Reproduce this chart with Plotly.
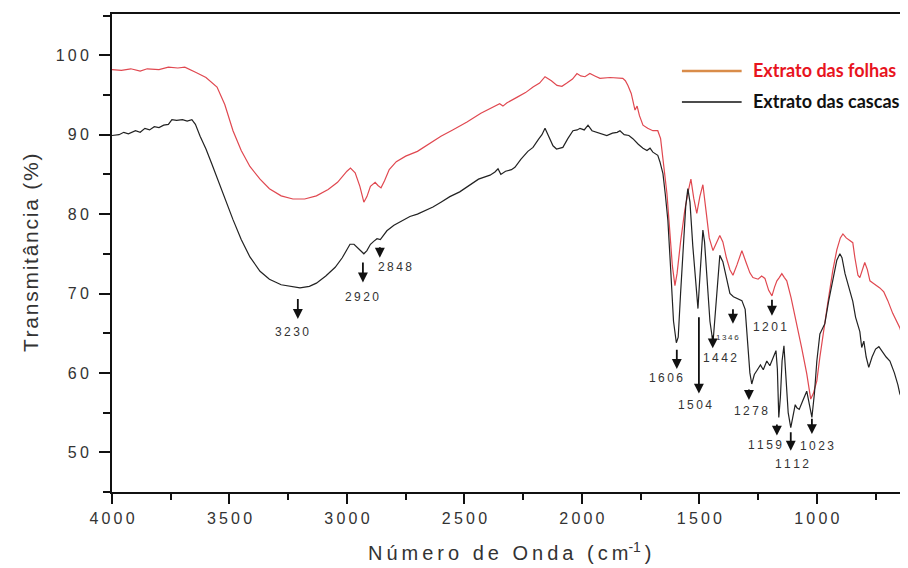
import plotly.graph_objects as go

# ---------------- data ----------------
folhas_x = [4000,3960,3920,3880,3850,3800,3760,3720,3690,3665,3640,3600,3553,3520,3485,3450,3413,3370,3330,3280,
            3230,3180,3130,3080,3040,3000,2985,2965,2945,2928,2915,2900,2880,2868,2855,2840,2820,2790,2750,2700,
            2650,2600,2550,2489,2430,2380,2350,2336,2320,2277,2240,2208,2180,2157,2130,2106,2085,2064,2040,2021,
            2005,1987,1966,1945,1923,1880,1850,1826,1815,1804,1790,1774,1765,1755,1740,1720,1698,1677,1665,1655,
            1645,1638,1625,1615,1604,1595,1580,1562,1548,1536,1524,1511,1498,1485,1472,1458,1442,1428,1413,1400,
            1385,1370,1357,1340,1319,1300,1285,1272,1250,1235,1221,1205,1191,1180,1170,1160,1149,1138,1128,1110,
            1095,1085,1065,1043,1030,1026,1015,1000,987,974,955,932,915,900,889,875,860,847,838,825,
            817,805,796,785,774,760,745,732,715,698,677,660,647,630,620,615]
folhas_y = [98.2,98.1,98.3,98.0,98.3,98.2,98.5,98.4,98.5,98.2,97.8,97.2,96.0,93.8,90.5,88.0,86.0,84.4,83.2,82.3,
            81.9,81.9,82.3,83.1,84.0,85.4,85.8,85.2,83.5,81.5,82.2,83.5,84.0,83.6,83.3,84.2,85.6,86.6,87.3,87.9,
            88.9,89.8,90.6,91.6,92.7,93.5,93.9,93.6,94.0,94.7,95.3,96.0,96.5,97.3,96.8,96.2,96.1,96.5,97.0,97.7,
            97.4,97.3,97.7,97.4,97.1,97.2,97.1,97.1,96.8,96.2,95.2,93.1,93.6,92.4,91.2,90.8,90.5,90.5,89.5,87.0,
            84.0,82.6,77.5,73.5,71.0,72.5,76.5,80.5,82.8,84.4,82.0,80.1,82.2,83.7,80.5,77.0,75.4,76.4,77.3,76.5,
            74.5,73.0,72.3,73.6,75.4,73.8,72.6,72.0,71.8,72.2,71.9,70.4,69.7,70.8,71.6,72.0,72.5,72.0,71.6,69.5,
            67.5,66.2,63.2,59.9,57.2,56.7,57.4,59.0,62.0,64.9,68.5,72.9,75.5,77.0,77.5,77.0,76.7,76.4,74.5,72.3,
            72.0,73.0,73.9,73.0,71.6,71.3,71.0,70.7,70.2,69.1,67.5,66.5,65.7,64.0,63.0,59.0]

cascas_x = [4000,3970,3950,3930,3900,3880,3860,3840,3820,3800,3780,3760,3745,3725,3700,3680,3660,3645,3625,3600,
            3575,3553,3520,3485,3450,3413,3370,3330,3280,3230,3200,3160,3130,3090,3050,3020,3000,2987,2970,2950,
            2928,2915,2900,2885,2872,2858,2848,2830,2800,2770,2732,2700,2660,2634,2600,2562,2520,2489,2440,2391,
            2370,2357,2345,2325,2300,2285,2260,2230,2208,2185,2170,2157,2140,2123,2108,2094,2081,2060,2038,2020,
            2008,1990,1974,1957,1935,1910,1894,1870,1850,1838,1820,1800,1783,1760,1740,1723,1710,1698,1677,1668,
            1655,1645,1634,1622,1610,1598,1590,1580,1568,1558,1549,1540,1528,1516,1506,1498,1490,1485,1478,1465,
            1455,1442,1432,1422,1413,1400,1385,1370,1355,1340,1319,1305,1295,1285,1277,1266,1255,1240,1228,1213,
            1200,1187,1174,1168,1162,1155,1148,1140,1132,1122,1111,1100,1092,1085,1075,1060,1043,1035,1021,1010,
            1000,987,975,966,950,930,915,902,893,880,860,847,835,825,817,809,800,790,779,765,
            750,736,720,705,689,670,655,647,630,617,613]
cascas_y = [89.9,90.0,90.3,90.1,90.5,90.3,90.8,90.6,91.0,90.9,91.2,91.3,91.9,91.8,91.9,91.7,91.9,91.3,89.8,88.2,
            86.3,84.6,81.8,79.3,76.8,74.6,72.8,71.8,71.1,70.8,70.7,70.9,71.3,72.2,73.3,74.5,75.5,76.2,76.2,75.6,
            75.0,75.4,76.2,76.6,76.9,76.8,77.2,77.9,78.6,79.1,79.7,80.0,80.5,80.9,81.5,82.2,82.8,83.4,84.4,84.9,
            85.3,85.7,85.0,85.4,85.6,85.9,86.9,87.9,88.4,89.4,90.0,90.8,89.6,88.6,88.2,88.3,88.4,89.5,90.5,90.6,
            90.8,90.6,91.2,90.5,90.3,90.0,89.9,90.2,90.3,90.5,90.0,89.9,89.5,88.8,88.3,88.0,88.3,87.8,87.4,86.6,
            85.1,82.5,79.2,73.0,66.5,63.8,64.5,70.0,76.5,81.0,83.2,81.5,76.0,71.0,68.1,72.0,76.5,78.0,76.5,71.0,
            66.5,63.8,67.5,72.0,74.8,74.0,72.0,70.0,69.6,69.4,69.1,68.0,63.5,60.0,58.6,59.8,60.3,61.0,60.4,61.5,
            60.9,61.8,62.8,60.5,54.4,57.0,61.5,63.4,60.0,55.0,53.1,54.6,56.0,55.6,55.4,56.5,57.7,56.5,54.4,57.5,
            61.5,64.9,65.7,66.2,69.0,72.2,74.2,75.0,74.5,72.5,70.4,69.0,67.0,65.8,65.2,63.2,64.0,62.0,60.7,62.0,
            63.0,63.3,62.6,62.0,61.5,60.0,58.5,57.4,56.3,55.2,54.5]

# band annotations (arrow x, arrow top, arrow head, label x, label y)
band_labels = ["3230", "2920", "2848", "1606", "1504", "1442", "1346", "1278", "1201", "1159", "1112", "1023"]
arrow_x     = [3209, 2932, 2860, 1596, 1502, 1443, 1357, 1289, 1191, 1170, 1111, 1021]
arrow_top   = [69.5, 74.1, 76.0, 63.1, 67.2, 64.9, 68.2, 58.1, 69.4, 53.7, 52.7, 54.4]
arrow_head  = [66.8, 71.4, 74.5, 60.5, 57.4, 63.1, 66.2, 56.6, 67.2, 52.1, 50.2, 52.3]
label_x     = [3234, 2936, 2796, 1643, 1519, 1413, 1379, 1281, 1200, 1221, 1106, 1000]
label_y     = [65.1, 69.6, 73.3, 59.4, 55.9, 61.9, 64.4, 55.2, 65.8, 50.9, 48.5, 50.8]
label_size  = [12, 12, 12, 12, 12, 12, 8, 12, 12, 12, 12, 12]

x_ticks = [4000, 3500, 3000, 2500, 2000, 1500, 1000]
y_ticks = [50, 60, 70, 80, 90, 100]

series_names = ["Extrato das folhas", "Extrato das cascas"]

# ---------------- figure ----------------
TS = "\u2009"  # thin space for letter spacing
HS = "\u200a"  # hair space


def spaced(s, sep=TS):
    return sep.join(list(s))


fig = go.Figure()
fig.add_trace(go.Scatter(x=folhas_x, y=folhas_y, mode="lines", name=series_names[0],
                         line=dict(color="#e04850", width=1.2), showlegend=False))
fig.add_trace(go.Scatter(x=cascas_x, y=cascas_y, mode="lines", name=series_names[1],
                         line=dict(color="#222222", width=1.2), showlegend=False))

annotations = []
for i, lab in enumerate(band_labels):
    annotations.append(dict(x=arrow_x[i], y=arrow_head[i], ax=arrow_x[i], ay=arrow_top[i],
                            xref="x", yref="y", axref="x", ayref="y", text="", showarrow=True,
                            arrowhead=2, arrowsize=1.1, arrowwidth=1.8, arrowcolor="#111111"))
    annotations.append(dict(x=label_x[i], y=label_y[i], xref="x", yref="y", text=spaced(lab),
                            showarrow=False, font=dict(family="Liberation Sans, Arial", size=label_size[i],
                                                       color="#333333")))

# axis titles
annotations.append(dict(x=-0.103, y=0.5, xref="paper", yref="paper", textangle=-90,
                        xanchor="center", yanchor="middle",
                        text=spaced("Transmitância (%)", HS), showarrow=False,
                        font=dict(family="Liberation Sans, Arial", size=21, color="#333333")))
annotations.append(dict(x=0.5, y=-0.1255, xref="paper", yref="paper", xanchor="center", yanchor="middle",
                        text=spaced("Número de Onda (cm") + "<sup>-1</sup>" + TS + ")", showarrow=False,
                        font=dict(family="Liberation Sans, Arial", size=20, color="#333333")))

# legend (manual)
legend_colors = ["#d98c4a", "#111111"]
text_colors = ["#e8141e", "#111111"]
legend_line_y = [0.881, 0.816]
legend_text_y = [0.883, 0.818]
for i, nm in enumerate(series_names):
    fig.add_shape(type="line", xref="paper", yref="paper", x0=0.716, x1=0.791,
                  y0=legend_line_y[i], y1=legend_line_y[i],
                  line=dict(color=legend_colors[i], width=2.5 if i == 0 else 1.5))
    annotations.append(dict(x=0.803, y=legend_text_y[i], xref="paper", yref="paper", text="<b>" + nm + "</b>",
                            xanchor="left", yanchor="middle", showarrow=False,
                            font=dict(family="Lato, Open Sans", size=18, color=text_colors[i])))

# page body has an 8px margin -> figure is 900x560 placed at (8, 8)
fig.update_layout(
    width=900, height=560,
    margin=dict(l=104, r=0, t=6, b=76),
    paper_bgcolor="white", plot_bgcolor="white",
    annotations=annotations,
    showlegend=False,
)
fig.update_xaxes(range=[4000, 612], showgrid=False, zeroline=False,
                 showline=True, linecolor="#111111", linewidth=2, mirror=True,
                 ticks="outside", ticklen=10, tickwidth=2, tickcolor="#111111",
                 tickmode="array", tickvals=x_ticks, ticktext=[spaced(str(v)) for v in x_ticks],
                 ticklabelstandoff=1,
                 minor=dict(dtick=250, tick0=0, ticks="outside", ticklen=6, tickwidth=2, tickcolor="#111111"),
                 tickfont=dict(family="Liberation Sans, Arial", size=16, color="#333333"))
fig.update_yaxes(range=[45, 105.2], showgrid=False, zeroline=False,
                 showline=True, linecolor="#111111", linewidth=2,
                 ticks="outside", ticklen=11, tickwidth=2, tickcolor="#111111",
                 tickmode="array", tickvals=y_ticks, ticktext=[spaced(str(v)) for v in y_ticks],
                 ticklabelstandoff=7,
                 minor=dict(dtick=5, tick0=0, ticks="outside", ticklen=7, tickwidth=2, tickcolor="#111111"),
                 tickfont=dict(family="Liberation Sans, Arial", size=16, color="#333333"))

fig.write_html("out.html")
